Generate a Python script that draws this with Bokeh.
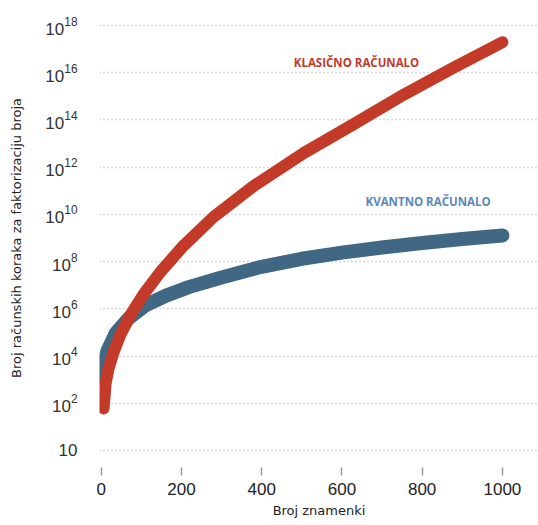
from bokeh.plotting import figure
from bokeh.models import FixedTicker, LogTickFormatter, Label
from bokeh.embed import file_html
from bokeh.resources import INLINE

# Values: number of digits -> log10(number of computational steps)
classical_digits = [6, 11, 18, 31, 48, 73, 106, 148, 205, 280, 380, 505, 629, 754, 879, 1000]
classical_log10_steps = [1.78, 2.83, 3.45, 4.17, 4.91, 5.74, 6.62, 7.57, 8.67, 9.89,
                         11.2, 12.6, 13.82, 15.07, 16.22, 17.29]

quantum_digits = [3, 8, 16, 36, 68, 110, 160, 220, 300, 400, 500, 600, 700, 800, 900, 1000]
quantum_log10_steps = [3.05, 3.75, 4.24, 4.96, 5.59, 6.14, 6.55, 6.93, 7.33, 7.78,
                       8.12, 8.38, 8.6, 8.79, 8.96, 9.11]

classical_steps = [10 ** e for e in classical_log10_steps]
quantum_steps = [10 ** e for e in quantum_log10_steps]

x_ticks = [0, 200, 400, 600, 800, 1000]
y_ticks = [1, 1e2, 1e4, 1e6, 1e8, 1e10, 1e12, 1e14, 1e16, 1e18]
bottom_tick_label = "10"

classical_label = "KLASIČNO RAČUNALO"
quantum_label = "KVANTNO RAČUNALO"
x_title = "Broj znamenki"
y_title = "Broj računskih koraka za faktorizaciju broja"

RED = "#c33a29"
BLUE = "#406884"
LABEL_BLUE = "#5b87b9"

p = figure(width=538, height=525, output_backend="svg", toolbar_location=None,
           y_axis_type="log", x_range=(-4.2, 1090), y_range=(10**-0.34, 10**18.34),
           min_border_left=99, min_border_right=0, min_border_top=17, min_border_bottom=67)
p.outline_line_color = None
p.background_fill_color = "white"
p.border_fill_color = "white"

p.line(quantum_digits, quantum_steps, line_color=BLUE, line_width=14,
       line_cap="round", line_join="round")
p.line(classical_digits, classical_steps, line_color=RED, line_width=12,
       line_cap="round", line_join="round")

# axes
xa = p.xaxis[0]
xa.ticker = FixedTicker(ticks=x_ticks)
xa.axis_line_color = None
xa.major_tick_in = -9
xa.major_tick_out = 17
xa.major_tick_line_color = "#999999"
xa.major_tick_line_width = 1.5
xa.minor_tick_line_color = None
xa.major_label_text_font = "Liberation Sans"
xa.major_label_text_font_size = "17px"
xa.major_label_text_color = "#222222"
xa.major_label_standoff = 7
xa.axis_label = x_title
xa.axis_label_text_font = "DejaVu Sans"
xa.axis_label_text_font_style = "normal"
xa.axis_label_text_font_size = "13px"
xa.axis_label_text_color = "#222222"
xa.axis_label_standoff = 5

ya = p.yaxis[0]
ya.ticker = FixedTicker(ticks=y_ticks)
ya.formatter = LogTickFormatter()
ya.major_label_overrides = {1: bottom_tick_label}
ya.axis_line_color = None
ya.major_tick_line_color = None
ya.minor_tick_line_color = None
ya.major_tick_in = 0
ya.major_tick_out = 0
ya.major_label_standoff = 22
ya.major_label_text_font = "Liberation Sans"
ya.major_label_text_font_size = "17px"
ya.major_label_text_color = "#333333"
ya.axis_label = y_title
ya.axis_label_text_font = "DejaVu Sans"
ya.axis_label_text_font_style = "normal"
ya.axis_label_text_font_size = "13px"
ya.axis_label_text_color = "#222222"
ya.axis_label_standoff = 18

p.xgrid.grid_line_color = None
p.ygrid.ticker = FixedTicker(ticks=y_ticks)
p.ygrid.grid_line_color = "#b0b0b0"
p.ygrid.grid_line_dash = "1 3"
p.ygrid.grid_line_width = 1.3

p.add_layout(Label(x=480, y=10**16.44, text=classical_label, text_color=RED,
                   text_font="Open Sans", text_font_style="bold", text_font_size="11.5px",
                   text_baseline="middle"))
p.add_layout(Label(x=659, y=10**10.55, text=quantum_label, text_color=LABEL_BLUE,
                   text_font="Open Sans", text_font_style="bold", text_font_size="11.5px",
                   text_baseline="middle"))

open("out.html", "w").write(file_html(p, INLINE))
